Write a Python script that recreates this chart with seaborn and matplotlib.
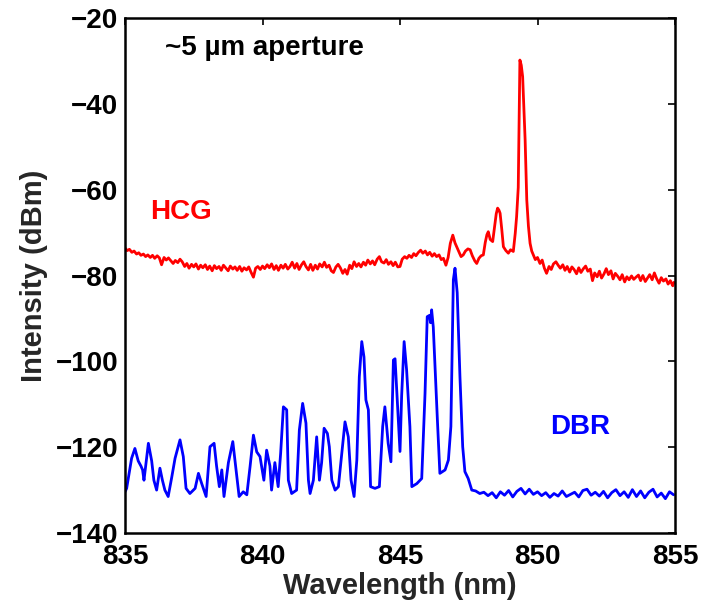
import matplotlib
matplotlib.use("Agg")
import matplotlib.pyplot as plt
import seaborn as sns
import pandas as pd

# ---------------- data ----------------
hcg_wavelength = [
    835.00, 835.08, 835.16, 835.25, 835.33, 835.42, 835.50, 835.58, 835.67, 835.75,
    835.83, 835.92, 836.00, 836.08, 836.17, 836.25, 836.33, 836.42, 836.50, 836.58,
    836.67, 836.75, 836.83, 836.92, 837.00, 837.08, 837.17, 837.25, 837.33, 837.42,
    837.50, 837.58, 837.67, 837.75, 837.83, 837.92, 838.00, 838.08, 838.17, 838.25,
    838.33, 838.42, 838.50, 838.58, 838.67, 838.75, 838.83, 838.92, 839.00, 839.08,
    839.17, 839.25, 839.33, 839.42, 839.50, 839.58, 839.67, 839.75, 839.83, 839.92,
    840.00, 840.08, 840.17, 840.25, 840.33, 840.42, 840.50, 840.58, 840.67, 840.75,
    840.83, 840.92, 841.00, 841.08, 841.17, 841.25, 841.33, 841.42, 841.50, 841.58,
    841.67, 841.75, 841.83, 841.92, 842.00, 842.08, 842.17, 842.25, 842.33, 842.42,
    842.50, 842.58, 842.67, 842.75, 842.83, 842.92, 843.00, 843.08, 843.17, 843.25,
    843.33, 843.42, 843.50, 843.58, 843.67, 843.75, 843.83, 843.92, 844.00, 844.08,
    844.17, 844.25, 844.33, 844.42, 844.50, 844.58, 844.67, 844.75, 844.83, 844.92,
    845.00, 845.08, 845.17, 845.25, 845.33, 845.42, 845.50, 845.58, 845.67, 845.75,
    845.83, 845.92, 846.00, 846.08, 846.17, 846.25, 846.33, 846.42, 846.50, 846.58,
    846.67, 846.75, 846.83, 846.92, 847.00, 847.06, 847.15, 847.22, 847.30, 847.38,
    847.47, 847.55, 847.63, 847.72, 847.79, 847.87, 847.95, 848.03, 848.10, 848.16,
    848.21, 848.28, 848.37, 848.45, 848.50, 848.55, 848.60, 848.64, 848.70, 848.76,
    848.85, 848.94, 849.02, 849.12, 849.19, 849.24, 849.30, 849.33, 849.36, 849.41,
    849.46, 849.50, 849.55, 849.61, 849.67, 849.73, 849.79, 849.85, 849.92, 850.00,
    850.09, 850.17, 850.25, 850.33, 850.42, 850.50, 850.58, 850.67, 850.75, 850.83,
    850.92, 851.00, 851.08, 851.17, 851.25, 851.33, 851.42, 851.50, 851.58, 851.67,
    851.75, 851.83, 851.92, 852.00, 852.08, 852.17, 852.25, 852.33, 852.42, 852.50,
    852.58, 852.67, 852.75, 852.83, 852.92, 853.00, 853.08, 853.17, 853.25, 853.33,
    853.42, 853.50, 853.58, 853.67, 853.75, 853.83, 853.92, 854.00, 854.08, 854.17,
    854.25, 854.33, 854.42, 854.50, 854.58, 854.67, 854.75, 854.83, 854.92, 854.96,
]
hcg_intensity = [
    -73.6, -74.2, -73.9, -74.6, -74.3, -75.0, -74.7, -75.3, -75.0, -75.6,
    -75.2, -75.8, -75.3, -76.0, -75.4, -75.9, -77.5, -75.8, -76.4, -75.9,
    -76.6, -77.2, -76.5, -77.0, -76.2, -76.8, -77.9, -77.2, -78.3, -77.4,
    -78.0, -77.3, -78.5, -77.6, -78.2, -77.5, -78.6, -77.8, -78.9, -77.7,
    -78.4, -77.9, -78.8, -77.6, -78.3, -78.9, -77.8, -78.5, -78.0, -78.8,
    -77.9, -79.0, -78.2, -78.7, -78.0, -79.2, -80.4, -78.3, -77.9, -78.6,
    -77.8, -78.4, -77.5, -78.2, -77.3, -78.6, -77.7, -78.8, -77.6, -78.3,
    -77.4, -78.5, -77.9, -76.9, -78.3, -77.2, -78.6, -77.5, -76.8, -77.9,
    -78.7, -77.4, -78.8, -77.6, -78.5, -77.3, -78.0, -76.9, -78.1, -77.6,
    -78.9, -79.3, -78.0, -77.4, -78.2, -79.5, -78.6, -79.7, -77.6, -78.4,
    -76.8, -77.9, -77.2, -78.0, -76.9, -77.6, -76.4, -77.3, -76.6, -77.5,
    -76.2, -75.6, -76.8, -77.1, -76.3, -77.4, -76.8, -77.7, -76.9, -78.0,
    -77.9, -76.2, -75.6, -76.0, -75.3, -75.8, -74.9, -75.4, -74.6, -74.1,
    -74.8, -74.3, -75.2, -74.6, -75.5, -74.9, -75.6, -75.2, -76.3, -76.0,
    -77.6, -75.8, -72.5, -70.6, -72.4, -73.3, -74.6, -75.6, -75.2, -74.3,
    -73.8, -74.0, -75.4, -76.6, -77.2, -76.0, -75.4, -75.2, -72.3, -70.5,
    -69.8, -71.6, -72.1, -68.2, -65.6, -64.3, -64.8, -65.5, -69.2, -73.3,
    -74.2, -74.8, -74.0, -74.4, -70.2, -66.3, -59.5, -45.0, -29.8, -31.0,
    -33.7, -40.0, -48.4, -62.4, -68.5, -72.5, -74.3, -75.2, -76.3, -75.8,
    -77.2, -76.4, -78.3, -79.5, -77.9, -78.6, -77.3, -76.8, -77.6, -78.3,
    -77.5, -78.8, -77.9, -79.2, -78.0, -78.6, -79.6, -78.2, -79.3, -78.4,
    -77.8, -79.0, -78.5, -81.2, -79.4, -80.3, -79.0, -80.6, -79.6, -78.4,
    -79.8, -78.9, -80.8, -79.5, -80.2, -81.0, -79.8, -81.5, -80.3, -81.0,
    -80.1, -80.9, -80.4, -79.9, -81.2, -80.0, -81.4, -80.6, -79.8, -81.0,
    -79.4, -80.7, -81.8, -80.5, -81.3, -80.8, -82.0, -81.2, -82.4, -81.6,
]

dbr_wavelength = [
    835.00, 835.06, 835.24, 835.36, 835.48, 835.58, 835.64, 835.69, 835.85, 835.97,
    836.05, 836.15, 836.27, 836.36, 836.45, 836.57, 836.70, 836.82, 837.00, 837.12,
    837.22, 837.36, 837.55, 837.67, 837.79, 837.95, 838.09, 838.24, 838.33, 838.43,
    838.52, 838.60, 838.76, 838.92, 839.00, 839.15, 839.30, 839.43, 839.55, 839.67,
    839.79, 839.91, 840.05, 840.15, 840.27, 840.33, 840.45, 840.57, 840.66, 840.76,
    840.88, 840.94, 841.06, 841.24, 841.34, 841.46, 841.58, 841.67, 841.73, 841.85,
    841.97, 842.07, 842.15, 842.24, 842.36, 842.43, 842.52, 842.64, 842.76, 842.91,
    843.00, 843.12, 843.22, 843.33, 843.43, 843.52, 843.61, 843.69, 843.76, 843.85,
    843.93, 844.09, 844.25, 844.37, 844.45, 844.57, 844.67, 844.76, 844.82, 844.92,
    845.00, 845.06, 845.15, 845.24, 845.36, 845.43, 845.61, 845.79, 845.91, 845.99,
    846.07, 846.11, 846.15, 846.21, 846.36, 846.45, 846.64, 846.76, 846.85, 846.94,
    847.00, 847.08, 847.18, 847.28, 847.36, 847.48, 847.61, 847.75, 847.90, 848.05,
    848.20, 848.35, 848.50, 848.65, 848.80, 848.95, 849.10, 849.25, 849.40, 849.55,
    849.70, 849.85, 850.00, 850.15, 850.30, 850.45, 850.60, 850.75, 850.90, 851.05,
    851.20, 851.35, 851.50, 851.65, 851.80, 851.95, 852.10, 852.25, 852.40, 852.55,
    852.70, 852.85, 853.00, 853.15, 853.30, 853.45, 853.60, 853.75, 853.90, 854.05,
    854.20, 854.35, 854.50, 854.65, 854.80, 854.95,
]
dbr_intensity = [
    -130.4, -129.6, -122.6, -120.3, -123.2, -124.4, -125.3, -127.7, -119.1, -123.2,
    -127.7, -130.0, -124.9, -127.7, -130.0, -131.5, -127.0, -122.6, -118.3, -122.2,
    -129.6, -130.8, -129.6, -126.1, -128.5, -131.5, -119.9, -119.1, -124.4, -129.2,
    -125.3, -131.5, -123.6, -118.7, -123.2, -131.5, -130.4, -131.1, -124.4, -117.2,
    -121.1, -122.2, -127.7, -120.7, -124.4, -130.0, -123.6, -129.2, -121.4, -110.6,
    -111.3, -127.7, -130.8, -130.0, -116.0, -109.8, -114.4, -127.7, -130.8, -127.7,
    -117.6, -127.7, -123.6, -115.6, -116.8, -119.9, -127.7, -130.0, -129.2, -119.9,
    -114.1, -117.6, -127.7, -131.5, -123.0, -103.6, -95.4, -99.0, -109.0, -111.3,
    -129.2, -129.6, -129.2, -115.2, -110.6, -119.1, -123.4, -99.7, -99.4, -111.3,
    -121.0, -108.0, -95.4, -102.0, -115.2, -129.2, -128.5, -127.3, -107.5, -89.6,
    -89.3, -91.0, -88.0, -92.0, -113.7, -126.1, -125.3, -123.0, -115.2, -81.0,
    -78.3, -84.0, -103.6, -119.9, -125.7, -127.3, -130.0, -130.2, -130.8, -130.5,
    -131.3, -130.6, -131.8, -130.4, -131.2, -130.1, -131.6, -130.3, -129.6, -130.9,
    -129.8, -131.0, -130.4, -131.3, -130.6, -131.7, -130.8, -131.4, -130.2, -131.5,
    -131.0, -130.5, -131.6, -130.1, -129.8, -131.2, -130.5, -131.4, -130.3, -131.8,
    -130.6, -129.9, -131.3, -130.4, -131.7, -129.9, -131.5, -130.2, -131.8, -130.5,
    -129.8, -131.6, -130.7, -132.0, -130.4, -131.1,
]

series_names = ["HCG", "DBR"]
series_colors = ["#ff0000", "#0000ff"]
x_ticks = [835, 840, 845, 850, 855]
y_ticks = [-140, -120, -100, -80, -60, -40, -20]

df = pd.concat([
    pd.DataFrame({"Wavelength": hcg_wavelength, "Intensity": hcg_intensity, "Device": "HCG"}),
    pd.DataFrame({"Wavelength": dbr_wavelength, "Intensity": dbr_intensity, "Device": "DBR"}),
], ignore_index=True)

# ---------------- style ----------------
sns.set_theme(style="white")
plt.rcParams["font.family"] = ["Liberation Sans", "DejaVu Sans"]
plt.rcParams["font.weight"] = "bold"

fig = plt.figure(figsize=(7.04, 6.10), dpi=100)
ax = fig.add_axes([125 / 704, 1 - 533 / 610, 550 / 704, 515 / 610])

sns.lineplot(data=df, x="Wavelength", y="Intensity", hue="Device",
             hue_order=series_names, palette=series_colors,
             estimator=None, sort=False, linewidth=2.0, legend=False, ax=ax)

ax.set_xlim(835, 855)
ax.set_ylim(-140, -20)
ax.set_xticks(x_ticks)
ax.set_yticks(y_ticks)
ax.tick_params(direction="in", length=5, width=1.2, top=True, right=True,
               labelsize=20, colors="black")
ax.tick_params(axis="x", pad=8)
ax.tick_params(axis="y", pad=5)
for lbl in ax.get_xticklabels() + ax.get_yticklabels():
    lbl.set_fontweight("bold")
for s in ax.spines.values():
    s.set_visible(True)
    s.set_color("black")
    s.set_linewidth(1.8)

ax.set_xlabel("Wavelength (nm)", fontsize=21, fontweight="bold", labelpad=1)
ax.set_ylabel("Intensity (dBm)", fontsize=21, fontweight="bold", labelpad=5)

ax.text(836.45, -27, "~5 µm aperture", fontsize=20, fontweight="bold",
        color="black", ha="left", va="center")
ax.text(835.9, -65.2, "HCG", fontsize=20, fontweight="bold",
        color="#ff0000", ha="left", va="center")
ax.text(850.45, -115.3, "DBR", fontsize=20, fontweight="bold",
        color="#0000ff", ha="left", va="center")

fig.savefig("out.png", dpi=100, facecolor="white")
